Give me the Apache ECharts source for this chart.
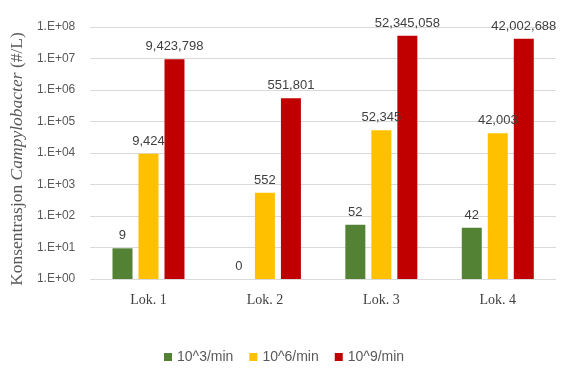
<!DOCTYPE html>
<html><head><meta charset="utf-8">
<script src="https://cdn.jsdelivr.net/npm/echarts@6/dist/echarts.min.js"></script>
<style>html,body{margin:0;padding:0;background:#fff}#c{width:561px;height:368px}</style>
</head><body><div id="c"></div>
<script>
const categories = ['Lok. 1', 'Lok. 2', 'Lok. 3', 'Lok. 4'];
const seriesNames = ['10^3/min', '10^6/min', '10^9/min'];
const s3 = [9.424, 0.4, 52.345, 42.003];
const s6 = [9424, 552, 52345, 42003];
const s9 = [9423798, 551801, 52345058, 42002688];
const colors = ['#548235', '#FFC000', '#C00000'];

const chart = echarts.init(document.getElementById('c'), null, {renderer: 'canvas'});
function mk(name, data, color) {
  return {
    name, type: 'bar', data, barWidth: 20, barGap: '30%',
    itemStyle: {color},
    label: {show: true, position: 'top', distance: 6,
      formatter: p => Math.round(data[p.dataIndex]).toLocaleString('en-US'),
      color: '#404040', fontFamily: 'Liberation Sans', fontSize: 13}
  };
}
chart.setOption({
  animation: false,
  grid: {left: 88, right: 5, top: 27, bottom: 89},
  legend: {
    bottom: -1, left: 159, icon: 'rect', itemWidth: 8, itemHeight: 8, itemGap: 16,
    textStyle: {color: '#595959', fontFamily: 'Liberation Sans', fontSize: 14},
    data: seriesNames
  },
  xAxis: {
    type: 'category', data: categories,
    axisLine: {show: false}, axisTick: {show: false},
    axisLabel: {color: '#404040', fontFamily: 'Liberation Serif', fontSize: 14, margin: 14}
  },
  yAxis: {
    type: 'log', logBase: 10, min: 1, max: 1e8, splitNumber: 8,
    axisLine: {show: false}, axisTick: {show: false},
    splitLine: {lineStyle: {color: '#d9d9d9', width: 1}},
    axisLabel: {color: '#595959', fontFamily: 'Liberation Sans', fontSize: 12, margin: 15,
      formatter: v => '1.E+' + String(Math.round(Math.log10(v))).padStart(2, '0')},
    name: '{a|Konsentrasjon }{b|Campylobacter}{a| (#/L)}',
    nameLocation: 'middle', nameGap: 60,
    nameTextStyle: {
      padding: [0, 12, 0, 0],
      rich: {
        a: {fontFamily: 'Liberation Serif', fontSize: 17.5, color: '#595959'},
        b: {fontFamily: 'Liberation Serif', fontSize: 17.5, fontStyle: 'italic', color: '#595959'}
      }
    }
  },
  series: [mk(seriesNames[0], s3, colors[0]), mk(seriesNames[1], s6, colors[1]), mk(seriesNames[2], s9, colors[2])]
});
</script></body></html>
